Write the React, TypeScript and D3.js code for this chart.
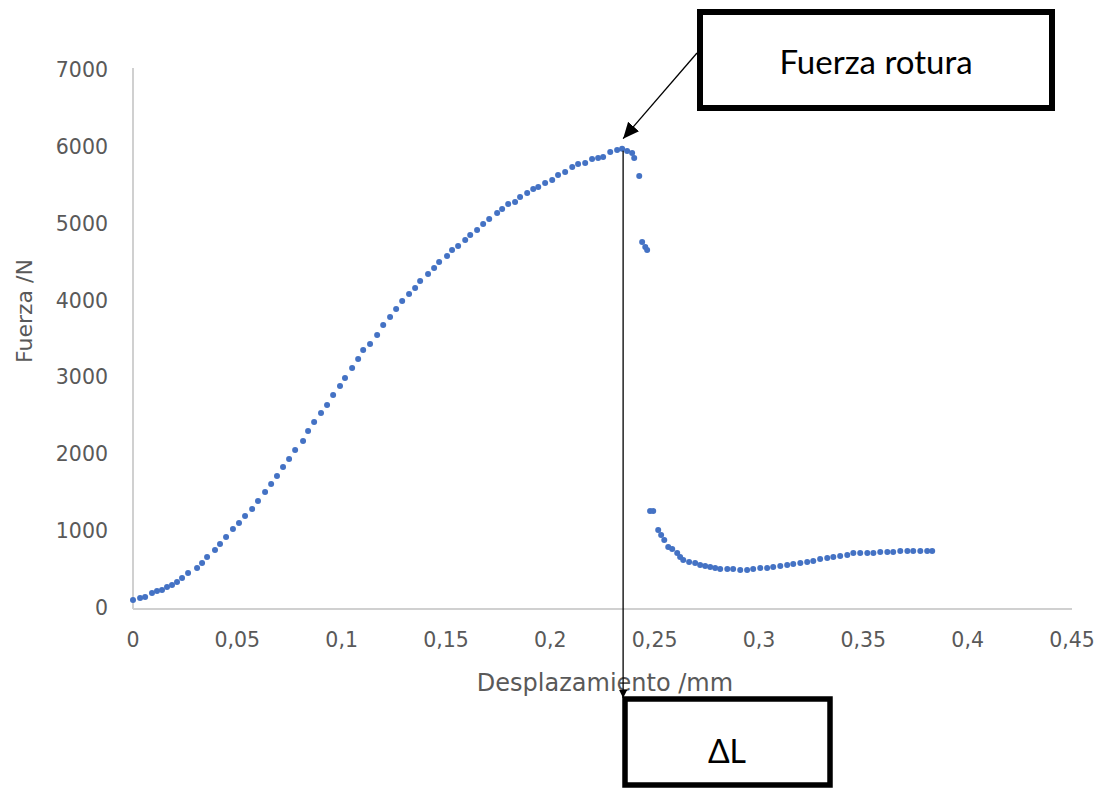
import React from 'react';
import * as d3 from 'd3';

// displacement (mm)
const disp = [
  0, 0.0034, 0.0058, 0.0091, 0.0115, 0.0139, 0.0163, 0.0187, 0.0211, 0.0235,
  0.0264, 0.0307, 0.0331, 0.0355, 0.0393, 0.0417, 0.0446, 0.0479, 0.0508, 0.0537,
  0.0571, 0.0599, 0.0633, 0.0662, 0.069, 0.0719, 0.0748, 0.0777, 0.0815, 0.0839,
  0.0868, 0.0901, 0.093, 0.0959, 0.0992, 0.1016, 0.105, 0.1079, 0.1103, 0.1136,
  0.117, 0.1199, 0.1232, 0.1261, 0.129, 0.1323, 0.1352, 0.1376, 0.1414, 0.1443,
  0.1467, 0.1505, 0.1529, 0.1558, 0.1592, 0.1616, 0.1649, 0.1678, 0.1707, 0.1745,
  0.1769, 0.1798, 0.1831, 0.1855, 0.1889, 0.1918, 0.1942, 0.1975, 0.2009, 0.2037,
  0.2071, 0.2105, 0.2133, 0.2167, 0.22, 0.2229, 0.2253, 0.2287, 0.232, 0.2344,
  0.2368, 0.2392, 0.2402, 0.2426, 0.244, 0.2455, 0.2464,
  0.2478, 0.2493, 0.2517, 0.2531, 0.2546, 0.2565, 0.2584, 0.2608, 0.2622, 0.2637,
  0.2665, 0.2694, 0.2718, 0.2742, 0.2766, 0.279, 0.2814, 0.2848, 0.2876, 0.291,
  0.2943, 0.2972, 0.3006, 0.3039, 0.3068, 0.3102, 0.3135, 0.3164, 0.3198, 0.3231,
  0.326, 0.3293, 0.3327, 0.3356, 0.3389, 0.3423, 0.3452, 0.3485, 0.3519, 0.3548,
  0.3581, 0.3615, 0.3643, 0.3677, 0.3711, 0.3739, 0.3773, 0.3806, 0.383,
];

// force (N)
const force = [
  117, 143, 156, 208, 234, 247, 286, 312, 351, 403,
  468, 533, 598, 677, 768, 846, 937, 1041, 1119, 1210,
  1301, 1405, 1522, 1626, 1730, 1848, 1952, 2069, 2186, 2316,
  2433, 2550, 2654, 2784, 2901, 3005, 3136, 3253, 3370, 3448,
  3565, 3695, 3799, 3903, 4007, 4098, 4176, 4268, 4359, 4437,
  4515, 4593, 4671, 4723, 4801, 4866, 4931, 5009, 5074, 5152,
  5204, 5269, 5295, 5360, 5412, 5464, 5490, 5543, 5582, 5647,
  5686, 5751, 5790, 5803, 5855, 5868, 5881, 5946, 5972, 5990,
  5959, 5933, 5868, 5634, 4775, 4710, 4671,
  1275, 1275, 1028, 963, 898, 807, 781, 729, 677, 638,
  612, 598, 572, 559, 546, 533, 520, 520, 520, 507,
  507, 520, 533, 533, 546, 559, 572, 585, 598, 612,
  625, 651, 664, 677, 690, 703, 729, 729, 729, 729,
  742, 742, 742, 755, 755, 755, 755, 755, 755,
];

const xTicks = [0, 0.05, 0.1, 0.15, 0.2, 0.25, 0.3, 0.35, 0.4, 0.45];
const xTickLabels = ['0', '0,05', '0,1', '0,15', '0,2', '0,25', '0,3', '0,35', '0,4', '0,45'];
const yTicks = [0, 1000, 2000, 3000, 4000, 5000, 6000, 7000];
const yTickLabels = ['0', '1000', '2000', '3000', '4000', '5000', '6000', '7000'];

export default function App() {
  const x = d3.scaleLinear().domain([0, 0.45]).range([133, 1072]);
  const y = d3.scaleLinear().domain([0, 7000]).range([609, 71]);

  const points = disp.map((d, i) => ({ d, f: force[i] }));
  const peakIdx = d3.maxIndex(force);
  const px = x(disp[peakIdx]);
  const py = y(force[peakIdx]);

  const labelColor = '#595959';
  const axisColor = '#d0d0d0';
  const tickFont = 'DejaVu Sans, sans-serif';

  return (
    <svg width={1099} height={789} style={{ position: 'absolute', left: 0, top: 0, background: '#fff' }}>
      <defs>
        <marker id="arr" viewBox="0 0 10 10" refX="10" refY="5" markerWidth="8" markerHeight="8" orient="auto-start-reverse" markerUnits="userSpaceOnUse">
          <path d="M0,0 L10,5 L0,10 z" fill="#000" />
        </marker>
        <marker id="arrBig" viewBox="0 0 10 10" refX="10" refY="5" markerWidth="16" markerHeight="16" orient="auto" markerUnits="userSpaceOnUse">
          <path d="M0,0.5 L10,5 L0,9.5 z" fill="#000" />
        </marker>
      </defs>

      {/* axes */}
      <line x1={133} x2={133} y1={y(7000) - 3} y2={y(0)} stroke={axisColor} strokeWidth={2} />
      <line x1={133} x2={x(0.45)} y1={y(0)} y2={y(0)} stroke={axisColor} strokeWidth={2} />

      {yTicks.map((t, i) => (
        <text key={'y' + t} x={108} y={y(t)} textAnchor="end" dominantBaseline="middle"
          fontFamily={tickFont} fontSize={20.5} fill={labelColor}>{yTickLabels[i]}</text>
      ))}
      {xTicks.map((t, i) => (
        <text key={'x' + t} x={x(t)} y={641} textAnchor="middle" dominantBaseline="middle"
          fontFamily={tickFont} fontSize={20.5} fill={labelColor}>{xTickLabels[i]}</text>
      ))}

      <text x={605} y={684} textAnchor="middle" dominantBaseline="middle"
        fontFamily={tickFont} fontSize={24} fill={labelColor}>Desplazamiento /mm</text>
      <text transform="translate(26,311) rotate(-90)" textAnchor="middle" dominantBaseline="middle"
        fontFamily={tickFont} fontSize={22} fill={labelColor}>Fuerza /N</text>

      {/* data */}
      {points.map((p, i) => (
        <circle key={i} cx={x(p.d)} cy={y(p.f)} r={3} fill="#4472c4" />
      ))}

      {/* annotations */}
      <line x1={697} y1={53} x2={px + 1} y2={py - 10} stroke="#000" strokeWidth={1.3} markerEnd="url(#arrBig)" />
      <line x1={px + 1} y1={py + 2} x2={px + 1} y2={698} stroke="#000" strokeWidth={1.3} markerEnd="url(#arr)" />

      <rect x={700} y={12} width={352} height={96} fill="#fff" stroke="#000" strokeWidth={6} />
      <text x={876} y={66} textAnchor="middle" dominantBaseline="middle"
        fontFamily="Lato, sans-serif" fontSize={33} fill="#000">Fuerza rotura</text>

      <rect x={625} y={699} width={205} height={86} fill="#fff" stroke="#000" strokeWidth={5.5} />
      <text x={727} y={755} textAnchor="middle" dominantBaseline="middle"
        fontFamily="Lato, sans-serif" fontSize={32} fill="#000">ΔL</text>
    </svg>
  );
}
